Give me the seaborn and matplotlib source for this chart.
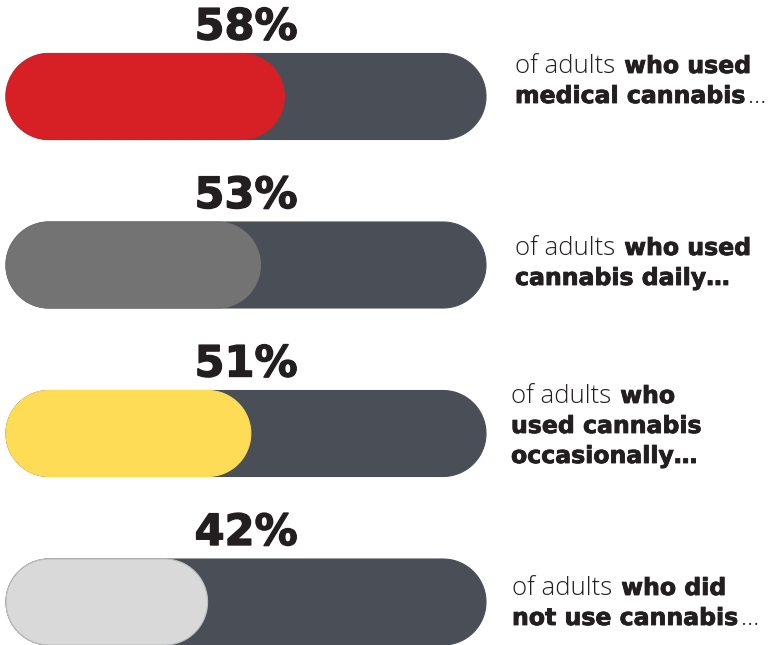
import matplotlib
matplotlib.use("Agg")
import matplotlib.pyplot as plt
from matplotlib.patches import Polygon
from matplotlib.transforms import IdentityTransform
import matplotlib.patheffects as pe
import numpy as np
import pandas as pd
import seaborn as sns

# --- data -------------------------------------------------------------
groups = ["medical", "daily", "occasional", "none"]
shares = [58, 53, 51, 42]
full_scale = [100, 100, 100, 100]
fill_colors = ["#d71f26", "#737373", "#fedc55", "#d9d9d9"]
track_color = "#4a4f57"
captions = [
    [[("of adults", "normal"), ("who used", "bold")],
     [("medical cannabis", "bold"), ("\u2026", "normal")]],
    [[("of adults", "normal"), ("who used", "bold")],
     [("cannabis daily\u2026", "bold")]],
    [[("of adults", "normal"), ("who", "bold")],
     [("used cannabis", "bold")],
     [("occasionally\u2026", "bold")]],
    [[("of adults", "normal"), ("who did", "bold")],
     [("not use cannabis", "bold"), ("\u2026", "normal")]],
]

# --- layout (pixels) ----------------------------------------------------
W, H = 777, 645
track_left, track_right = 6, 486
first_center, row_step = 96.5, 168.5
bar_px = 86
caption_x = [515, 515, 511, 512]
caption_top_baseline = [73, 255, 403, 595]
line_step = 30
ink = "#231f20"

df = pd.DataFrame({"group": groups, "share": shares, "full": full_scale})

sns.set_theme(style="white")
fig = plt.figure(figsize=(W / 100, H / 100), dpi=100)
ax = fig.add_axes([0, 0, 1, 1])

px_per_x = (track_right - track_left) / 100.0
bar_width = bar_px / row_step

sns.barplot(data=df, x="full", y="group", orient="h", color=track_color,
            saturation=1, width=bar_width, errorbar=None, ax=ax, zorder=1)
sns.barplot(data=df, x="share", y="group", hue="group", palette=fill_colors,
            saturation=1, orient="h", width=bar_width, errorbar=None,
            legend=False, ax=ax, zorder=2)

ax.set_xlim(-track_left / px_per_x, (W - track_left) / px_per_x)
ax.set_ylim((H - first_center) / row_step, -first_center / row_step)
ax.set_axis_off()

# turn each rectangle into a capsule with semicircular ends
t = np.linspace(-np.pi / 2, np.pi / 2, 60)
for p in list(ax.patches):
    x0, y0 = p.get_x(), p.get_y()
    w, h = p.get_width(), p.get_height()
    fc = p.get_facecolor()
    z = p.get_zorder()
    hh = h / 2
    cy = y0 + hh
    rx = (bar_px / 2) / px_per_x
    right = np.column_stack([x0 + w - rx + rx * np.cos(t), cy + hh * np.sin(t)])
    left = np.column_stack([x0 + rx - rx * np.cos(t[::-1]), cy + hh * np.sin(t[::-1])])
    verts = np.vstack([right, left])
    light = fc[0] > 0.8 and fc[1] > 0.8 and fc[2] > 0.8
    cap = Polygon(verts, closed=True, facecolor=fc,
                  edgecolor="#bdbdbd" if light else fc,
                  linewidth=0.8, zorder=z)
    p.remove()
    ax.add_patch(cap)

# percentage labels above the middle of each track
for i, v in enumerate(shares):
    top = i - bar_width / 2
    ax.text(50, top - 14 / row_step, f"{v}%", ha="center", va="baseline",
            fontsize=31, fontweight="bold", family="DejaVu Sans", color=ink,
            path_effects=[pe.withStroke(linewidth=1.0, foreground=ink)])

# captions with mixed weights
renderer = fig.canvas.get_renderer()
styles = {
    "normal": dict(family="Open Sans", fontsize=18.5, fontweight="light"),
    "bold": dict(family="DejaVu Sans", fontsize=17, fontweight="bold"),
}
for i, lines in enumerate(captions):
    for j, pieces in enumerate(lines):
        x = caption_x[i]
        y = H - (caption_top_baseline[i] + j * line_step)
        prev = None
        for text, weight in pieces:
            if prev is not None:
                gap = 2 if text.startswith("\u2026") else 9
                x = prev.get_window_extent(renderer).x1 + gap
            extra = {}
            if weight == "bold":
                extra["path_effects"] = [pe.withStroke(linewidth=0.6, foreground=ink)]
            tx = fig.text(x, y, text, transform=IdentityTransform(),
                          ha="left", va="baseline", color=ink,
                          **styles[weight], **extra)
            prev = tx

fig.savefig("out.png", dpi=100, facecolor="white")
